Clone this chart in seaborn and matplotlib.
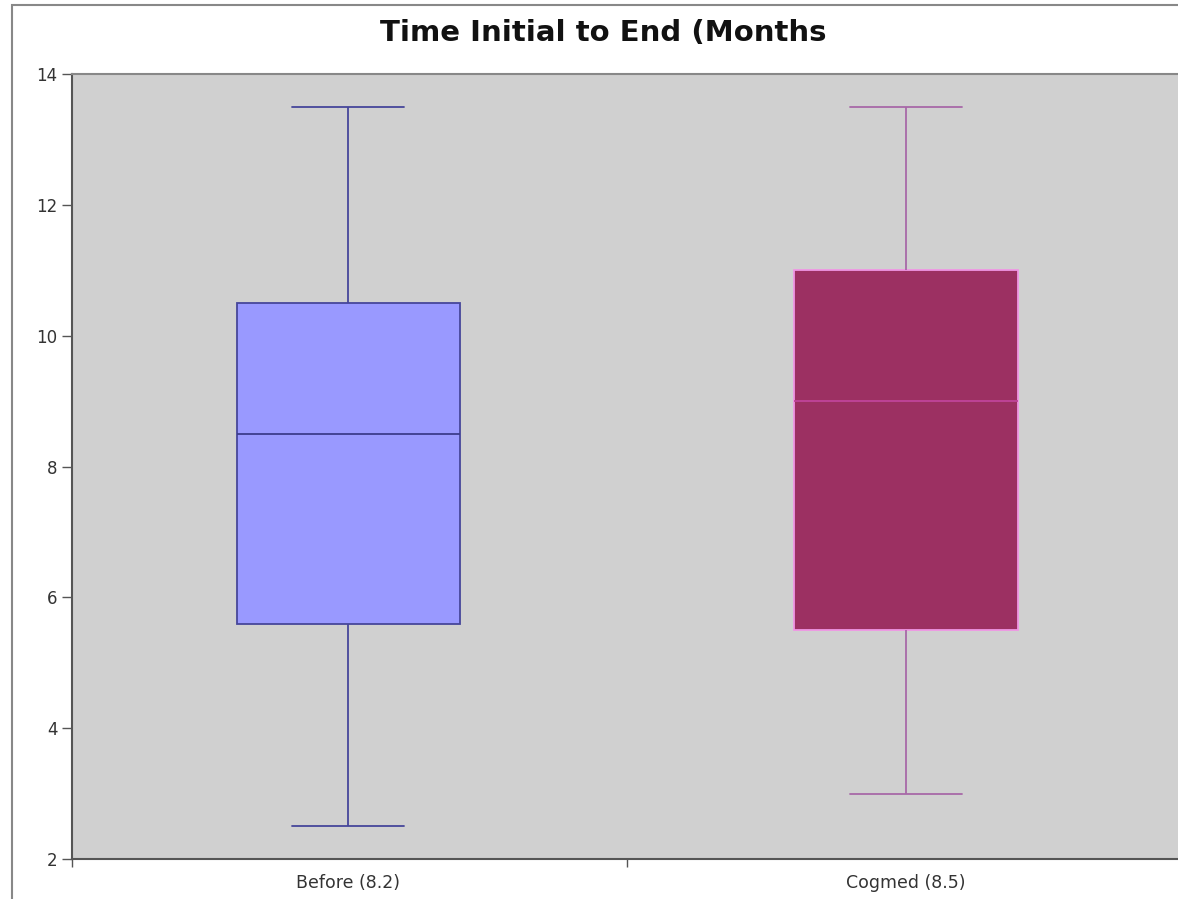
import numpy as np
import pandas as pd
import matplotlib
matplotlib.use("Agg")
import matplotlib.pyplot as plt
from matplotlib.patches import Rectangle
import seaborn as sns

# Five-number summaries per group: min, Q1, median, Q3, max
categories = ["Before (8.2)", "Cogmed (8.5)"]
before_vals = [2.5, 5.6, 8.5, 10.5, 13.5]
cogmed_vals = [3.0, 5.5, 9.0, 11.0, 13.5]
y_ticks = [2, 4, 6, 8, 10, 12, 14]
title = "Time Initial to End (Months"

df = pd.DataFrame({
    "group": [categories[0]] * len(before_vals) + [categories[1]] * len(cogmed_vals),
    "value": before_vals + cogmed_vals,
})

sns.set_theme(style="white")
plt.rcParams["font.family"] = ["DejaVu Sans"]

W, H = 1178, 899
x_left = -0.495
fig = plt.figure(figsize=(W / 100, H / 100), dpi=100)
# plot area runs slightly past the right edge of the canvas
ax = fig.add_axes([72 / W, 1 - 859 / H, 1113 / W, (859 - 74) / H])
ax.set_facecolor("#d0d0d0")

styles = {
    categories[0]: dict(fill="#9999ff", box="#46469a", whisk="#46469a", med="#3c3c8c"),
    categories[1]: dict(fill="#9c3062", box="#f096e4", whisk="#a868a8", med="#c0449a"),
}

for cat in categories:
    st = styles[cat]
    sub = df[df["group"] == cat]
    sns.boxplot(
        data=sub, x="group", y="value", order=categories, ax=ax,
        width=0.4, whis=(0, 100), color=st["fill"], saturation=1,
        linewidth=1.3, showfliers=False,
        boxprops=dict(facecolor=st["fill"], edgecolor=st["box"]),
        whiskerprops=dict(color=st["whisk"]),
        capprops=dict(color=st["whisk"]),
        medianprops=dict(color=st["med"]),
    )

ax.set_xlim(x_left, 1.5)
ax.set_ylim(2, 14)
ax.set_yticks(y_ticks)
ax.set_yticklabels([str(t) for t in y_ticks], fontsize=12, color="#333333")

# category labels at box centres, tick marks at category boundaries
ax.set_xticks([x_left, 0.5])
ax.set_xticklabels(["", ""])
ax.set_xticks([0, 1], minor=True)
ax.set_xticklabels(categories, minor=True, fontsize=12.5, color="#333333")
ax.tick_params(axis="x", which="major", direction="out", length=6, width=1,
               color="#555555", bottom=True)
ax.tick_params(axis="x", which="minor", length=0, pad=11, bottom=True)
ax.tick_params(axis="y", direction="out", length=7, width=1, color="#555555",
               left=True, pad=3.5)
ax.set_xlabel("")
ax.set_ylabel("")

for side, col in [("left", "#555555"), ("bottom", "#555555"), ("top", "#888888")]:
    ax.spines[side].set_visible(True)
    ax.spines[side].set_color(col)
    ax.spines[side].set_linewidth(1.5)
ax.spines["right"].set_visible(False)

# outer frame around the chart
fig.add_artist(Rectangle((12 / W, -0.2), 2, 1.2 - 5 / H, transform=fig.transFigure,
                         fill=False, edgecolor="#888888", linewidth=1.5))

fig.text(603 / W, 1 - 33 / H, title, ha="center", va="center",
         fontsize=21, fontweight="bold", color="#111111")

fig.savefig("out.png", dpi=100, facecolor="white")
